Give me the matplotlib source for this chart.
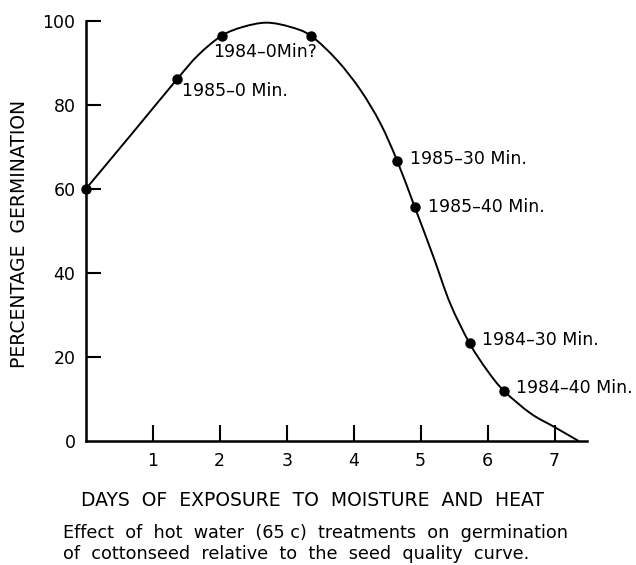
import numpy as np
from matplotlib import pyplot as plt
from matplotlib.path import Path
from matplotlib.patches import PathPatch

# seed quality curve
curve_x = [0.0, 0.68, 1.36, 1.68, 2.03, 2.35, 2.70, 3.05, 3.36, 3.75, 4.10, 4.40,
           4.65, 4.91, 5.19, 5.44, 5.73, 5.99, 6.24, 6.64, 6.99, 7.36]
curve_y = [60.0, 73.0, 86.1, 91.9, 96.5, 98.6, 99.6, 98.6, 96.5, 90.7, 83.6, 75.6,
           66.7, 55.8, 43.9, 32.8, 23.3, 16.9, 12.0, 6.6, 3.4, 0.0]

# hot water treatment points
point_x = [0.0, 1.36, 2.03, 3.36, 4.65, 4.91, 5.73, 6.24]
point_y = [60.0, 86.1, 96.5, 96.5, 66.7, 55.8, 23.3, 12.0]
point_labels = ['', '1985–0 Min.', '1984–0Min?', '', '1985–30 Min.',
                '1985–40 Min.', '1984–30 Min.', '1984–40 Min.']
# label offsets in points
label_dx = [0, 4, -6, 0, 9.5, 9.5, 9, 9]
label_dy = [0, -8.5, -12, 0, 1, 0, 2, 2]

x_ticks = [1, 2, 3, 4, 5, 6, 7]
y_ticks = [0, 20, 40, 60, 80, 100]

font = 'DejaVu Sans'

fig = plt.figure(figsize=(6.36, 5.65), dpi=100)
ax = fig.add_axes([85.8 / 636, 124 / 565, 500.9 / 636, 420 / 565])

# smooth curve through the read points (bezier segments, catmull-rom style)
pts = np.column_stack([curve_x, curve_y])
verts = [pts[0]]
codes = [Path.MOVETO]
for i in range(len(pts) - 1):
    p0 = pts[max(i - 1, 0)]
    p1 = pts[i]
    p2 = pts[i + 1]
    p3 = pts[min(i + 2, len(pts) - 1)]
    verts += [p1 + (p2 - p0) / 6, p2 - (p3 - p1) / 6, p2]
    codes += [Path.CURVE4] * 3
ax.add_patch(PathPatch(Path(verts, codes), fill=False, edgecolor='black',
                       lw=1.4, clip_on=False))
ax.plot(point_x, point_y, 'o', color='black', ms=6.5, clip_on=False)

for x, y, lab, dx, dy in zip(point_x, point_y, point_labels, label_dx, label_dy):
    if lab:
        ax.annotate(lab, (x, y), xytext=(dx, dy), textcoords='offset points',
                    ha='left', va='center', fontsize=12.5, family=font)

ax.set_xlim(0, 7.48)
ax.set_ylim(0, 100)
ax.spines['top'].set_visible(False)
ax.spines['right'].set_visible(False)
ax.spines['left'].set_linewidth(1.8)
ax.spines['bottom'].set_linewidth(1.8)

ax.set_xticks(x_ticks)
ax.set_xticklabels([str(t) for t in x_ticks])
ax.set_yticks(y_ticks)
ax.set_yticklabels([str(t) for t in y_ticks])
ax.tick_params(axis='x', direction='in', length=11.5, width=1.5, pad=8,
               labelsize=12.5)
ax.tick_params(axis='y', direction='in', length=11, width=1.5, pad=7.5,
               labelsize=12.5)
ax.yaxis.get_major_ticks()[0].tick1line.set_visible(False)
for lab in ax.get_xticklabels() + ax.get_yticklabels():
    lab.set_family(font)

fig.text(20 / 636, 1 - 233.5 / 565, 'PERCENTAGE  GERMINATION', rotation=90,
         ha='center', va='center', fontsize=13.5, family=font)
fig.text(312.5 / 636, 1 - 500 / 565, 'DAYS  OF  EXPOSURE  TO  MOISTURE  AND  HEAT',
         ha='center', va='center', fontsize=13.5, family=font)
fig.text(63 / 636, 1 - 533 / 565,
         'Effect  of  hot  water  (65 c)  treatments  on  germination',
         ha='left', va='center', fontsize=12.7, family=font)
fig.text(63 / 636, 1 - 554 / 565,
         'of  cottonseed  relative  to  the  seed  quality  curve.',
         ha='left', va='center', fontsize=12.7, family=font)

fig.savefig('out.png', dpi=100)
